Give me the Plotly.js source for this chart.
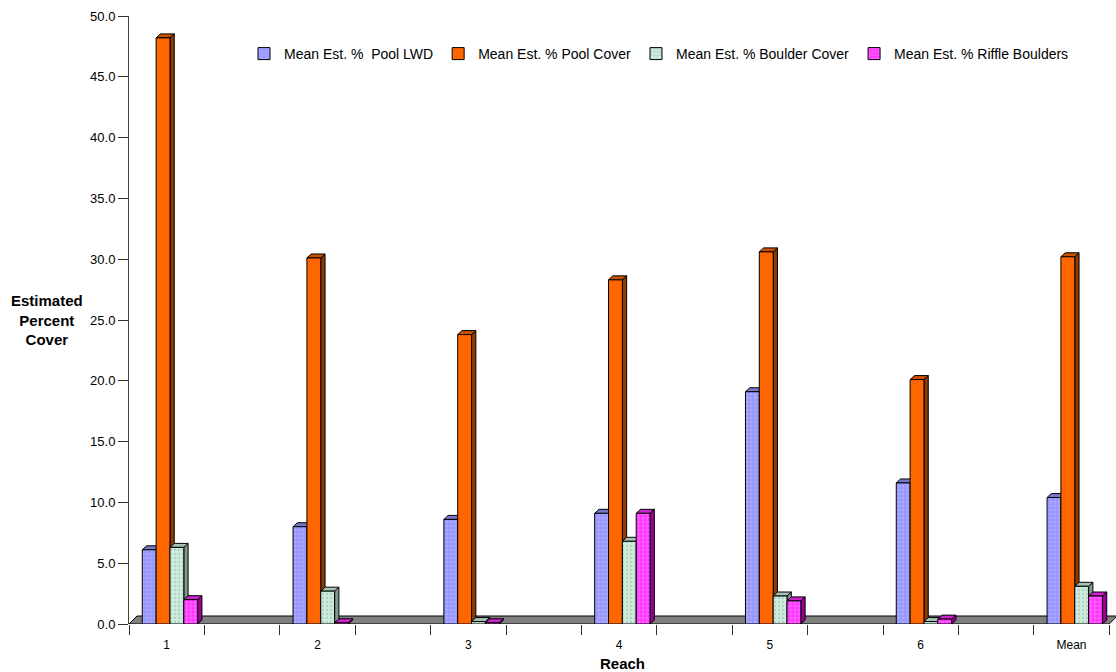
<!DOCTYPE html>
<html>
<head>
<meta charset="utf-8">
<script src="https://cdn.plot.ly/plotly-3.0.1.min.js"></script>
<style>
  html, body { margin: 0; padding: 0; background: #ffffff; }
  #chart { width: 1116px; height: 672px; }
</style>
</head>
<body>
<div id="chart"></div>
<script>
// Reaches and summary column
const categories = ['1', '2', '3', '4', '5', '6', 'Mean'];

// Series names as shown in the legend
const seriesNames = [
  'Mean Est. %  Pool LWD',
  'Mean Est. % Pool Cover',
  'Mean Est. % Boulder Cover',
  'Mean Est. % Riffle Boulders'
];

// Estimated percent cover per reach
const poolLWD        = [6.1, 8.0, 8.6, 9.1, 19.1, 11.6, 10.4];
const poolCover      = [48.2, 30.1, 23.8, 28.3, 30.6, 20.1, 30.2];
const boulderCover   = [6.3, 2.7, 0.2, 6.8, 2.3, 0.2, 3.1];
const riffleBoulders = [2.0, 0.1, 0.1, 9.1, 1.9, 0.4, 2.3];

// Value-axis ticks
const yTicks = [0, 5, 10, 15, 20, 25, 30, 35, 40, 45, 50];

const seriesValues = [poolLWD, poolCover, boulderCover, riffleBoulders];

// Face colours: front, side, top, plus a light texture on the front
const styles = [
  { front: '#9999FF', side: '#5B5BA8', top: '#7777C8', pattern: { shape: '.', fgcolor: '#AEAEFF', size: 4, solidity: 0.25 } },
  { front: '#FF6600', side: '#8F3A00', top: '#C85000', pattern: null },
  { front: '#CCEBDC', side: '#7E9A8B', top: '#A7C2B4', pattern: { shape: '.', fgcolor: '#B0D2C1', size: 4, solidity: 0.25 } },
  { front: '#FF33FF', side: '#990099', top: '#CC22CC', pattern: { shape: '+', fgcolor: '#FF88FF', size: 4, solidity: 0.25 } }
];

// Geometry of the pseudo-3D columns (axis units)
const xStart = -0.25, xEnd = 6.25;
const plotLeft = 129, plotRight = 1116, plotTop = 16, plotBottom = 624;
const pxPerX = 150.8;
const xRangeMax = xStart + (plotRight - plotLeft) / pxPerX;
const pxPerY = (plotBottom - plotTop) / 50;
const barW = 0.0918;
const groupOffset = -0.162;
const depthX = 4.3 / pxPerX, depthY = 4 / pxPerY;
const floorX = 8 / pxPerX, floorY = 8 / pxPerY;

const xPos = categories.map((c, i) => i);

const traces = seriesValues.map((vals, k) => {
  const st = styles[k];
  const marker = { color: st.front, line: { color: '#000000', width: 1 } };
  if (st.pattern) {
    marker.pattern = Object.assign({ bgcolor: st.front, fillmode: 'replace' }, st.pattern);
  }
  return {
    type: 'bar',
    name: seriesNames[k],
    x: xPos,
    y: vals,
    customdata: categories,
    textposition: 'none',
    width: barW,
    offset: groupOffset + k * barW,
    marker: marker,
    hovertemplate: 'Reach %{customdata}: %{y:.1f}<extra>' + seriesNames[k] + '</extra>'
  };
});

// Floor slab under the columns
const shapes = [{
  type: 'path', xref: 'x', yref: 'y', layer: 'below',
  path: `M ${xStart},0 L ${xEnd},0 L ${xEnd + floorX},${floorY} L ${xStart + floorX},${floorY} Z`,
  fillcolor: '#808080', line: { color: '#000000', width: 1 }
}];

// Side and top faces for every column, drawn left to right
xPos.forEach((xc, i) => {
  seriesValues.forEach((vals, k) => {
    const v = vals[i];
    const x0 = xc + groupOffset + k * barW;
    const x1 = x0 + barW;
    const st = styles[k];
    shapes.push({
      type: 'path', xref: 'x', yref: 'y', layer: 'below',
      path: `M ${x1},0 L ${x1 + depthX},${depthY} L ${x1 + depthX},${v + depthY} L ${x1},${v} Z`,
      fillcolor: st.side, line: { color: '#000000', width: 1 }
    });
    shapes.push({
      type: 'path', xref: 'x', yref: 'y', layer: 'below',
      path: `M ${x0},${v} L ${x0 + depthX},${v + depthY} L ${x1 + depthX},${v + depthY} L ${x1},${v} Z`,
      fillcolor: st.top, line: { color: '#000000', width: 1 }
    });
  });
});

const fontFamily = 'Liberation Sans, Arial, Helvetica, sans-serif';

// Tick marks between reaches on a companion axis
const tickMarks = [];
for (let t = xStart; t <= xEnd + 1e-9; t += 0.5) tickMarks.push(t);

const plotW = plotRight - plotLeft, plotH = plotBottom - plotTop;

const layout = {
  width: 1116,
  height: 672,
  margin: { l: plotLeft, r: 1116 - plotRight, t: plotTop, b: 672 - plotBottom },
  paper_bgcolor: '#ffffff',
  plot_bgcolor: '#ffffff',
  font: { family: fontFamily, color: '#000000', size: 12 },
  barmode: 'overlay',
  showlegend: true,
  legend: {
    orientation: 'h',
    xref: 'paper', yref: 'paper',
    x: (244 - plotLeft) / plotW, y: (plotBottom - 38) / plotH,
    xanchor: 'left', yanchor: 'top',
    font: { family: fontFamily, size: 14, color: '#000000' },
    bgcolor: 'rgba(0,0,0,0)',
    itemwidth: 30
  },
  xaxis: {
    type: 'linear',
    range: [xStart, xRangeMax],
    tickmode: 'array',
    tickvals: xPos,
    ticktext: categories,
    ticks: 'outside',
    ticklen: 10,
    tickcolor: 'rgba(0,0,0,0)',
    showline: false,
    showgrid: false,
    zeroline: false,
    tickfont: { family: fontFamily, size: 12, color: '#000000' },
    title: { text: '<b>Reach</b>', font: { family: fontFamily, size: 15, color: '#000000' }, standoff: 7 },
    fixedrange: true
  },
  xaxis2: {
    overlaying: 'x',
    anchor: 'y',
    side: 'bottom',
    type: 'linear',
    range: [xStart, xRangeMax],
    tickmode: 'array',
    tickvals: tickMarks,
    ticks: 'outside',
    ticklen: 10,
    tickwidth: 1,
    tickcolor: '#333333',
    showticklabels: false,
    showline: false,
    showgrid: false,
    zeroline: false,
    fixedrange: true
  },
  yaxis: {
    range: [0, 50],
    tickmode: 'array',
    tickvals: yTicks,
    tickformat: '.1f',
    ticks: 'outside',
    ticklen: 10,
    tickwidth: 1,
    tickcolor: '#333333',
    showline: true,
    linecolor: '#404040',
    linewidth: 1,
    showgrid: false,
    zeroline: false,
    tickfont: { family: fontFamily, size: 13, color: '#000000' },
    fixedrange: true
  },
  annotations: [{
    text: '<b>Estimated<br>Percent<br>Cover</b>',
    xref: 'paper', yref: 'paper',
    x: (47 - plotLeft) / plotW, y: (plotBottom - 320) / plotH,
    xanchor: 'center', yanchor: 'middle',
    showarrow: false,
    align: 'center',
    font: { family: fontFamily, size: 15, color: '#000000' }
  }],
  shapes: shapes
};

// Invisible trace so the tick-mark axis is drawn
const tickTrace = {
  type: 'scatter', x: [xStart], y: [0], xaxis: 'x2', yaxis: 'y',
  mode: 'markers', marker: { opacity: 0 }, showlegend: false, hoverinfo: 'skip'
};

Plotly.newPlot('chart', traces.concat([tickTrace]), layout, { displayModeBar: false, staticPlot: true });
</script>
</body>
</html>
